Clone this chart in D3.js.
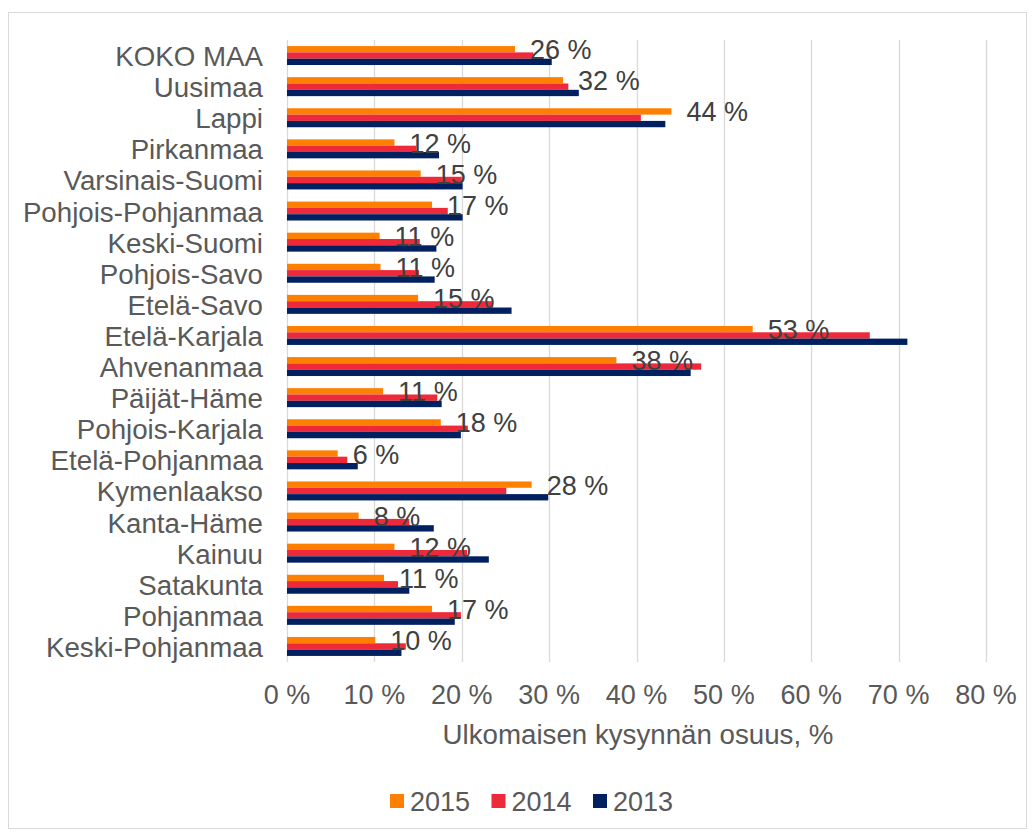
<!DOCTYPE html>
<html>
<head>
<meta charset="utf-8">
<script src="https://cdn.jsdelivr.net/npm/d3@7"></script>
<style>
  body { margin: 0; background: #fff; }
  text { font-family: "Liberation Sans", Arial, sans-serif; }
</style>
</head>
<body>
<div id="chart"></div>
<script>
// Data
const regions = ["KOKO MAA", "Uusimaa", "Lappi", "Pirkanmaa", "Varsinais-Suomi", "Pohjois-Pohjanmaa",
  "Keski-Suomi", "Pohjois-Savo", "Etelä-Savo", "Etelä-Karjala", "Ahvenanmaa", "Päijät-Häme",
  "Pohjois-Karjala", "Etelä-Pohjanmaa", "Kymenlaakso", "Kanta-Häme", "Kainuu", "Satakunta",
  "Pohjanmaa", "Keski-Pohjanmaa"];
const years = ["2015", "2014", "2013"];
const values2015 = [26.1, 31.6, 44.0, 12.3, 15.3, 16.6, 10.6, 10.7, 15.0, 53.3, 37.7, 11.0, 17.6, 5.8, 28.0, 8.2, 12.3, 11.1, 16.6, 10.1];
const values2014 = [28.2, 32.2, 40.5, 14.8, 20.0, 18.4, 15.2, 15.1, 23.6, 66.7, 47.4, 17.2, 20.7, 6.9, 25.1, 14.0, 20.6, 12.7, 19.9, 13.6];
const values2013 = [30.3, 33.4, 43.3, 17.4, 20.1, 20.1, 17.1, 16.9, 25.7, 71.0, 46.2, 17.7, 19.9, 8.1, 29.9, 16.8, 23.1, 14.0, 19.2, 13.1];
const xTicks = [0, 10, 20, 30, 40, 50, 60, 70, 80];
const colors = ["#FF8000", "#EE2A3A", "#002060"];

const seriesByYear = { "2015": values2015, "2014": values2014, "2013": values2013 };

const width = 1035, height = 832;
const plotLeft = 287, plotRight = 986, plotTop = 40, plotBottom = 662;

const svg = d3.select("#chart").append("svg")
  .attr("width", width)
  .attr("height", height);

// chart frame
svg.append("rect")
  .attr("x", 8.5).attr("y", 12.5)
  .attr("width", 1018).attr("height", 816)
  .attr("fill", "#fff")
  .attr("stroke", "#d9d9d9");

const x = d3.scaleLinear().domain([0, 80]).range([plotLeft, plotRight]);
const y = d3.scaleBand().domain(regions).range([plotTop, plotBottom]);
const groupH = y.bandwidth() * 0.61;
const ySub = d3.scaleBand().domain(years)
  .range([(y.bandwidth() - groupH) / 2, (y.bandwidth() + groupH) / 2]);

// gridlines
svg.append("g")
  .selectAll("line")
  .data(xTicks)
  .join("line")
    .attr("x1", d => Math.round(x(d)) + 0.5)
    .attr("x2", d => Math.round(x(d)) + 0.5)
    .attr("y1", plotTop)
    .attr("y2", plotBottom)
    .attr("stroke", "#d9d9d9")
    .attr("stroke-width", 1.3);

// bars
const rows = svg.append("g")
  .selectAll("g")
  .data(regions)
  .join("g")
    .attr("transform", d => `translate(0,${y(d)})`);

rows.selectAll("rect")
  .data((d, i) => years.map((yr, k) => ({ year: yr, value: seriesByYear[yr][i], k })))
  .join("rect")
    .attr("x", x(0))
    .attr("y", d => ySub(d.year))
    .attr("width", d => x(d.value) - x(0))
    .attr("height", ySub.bandwidth())
    .attr("fill", d => colors[d.k]);

// data labels (2015)
rows.append("text")
  .attr("x", (d, i) => x(values2015[i]) + 15)
  .attr("y", ySub("2015") + ySub.bandwidth() / 2 + 1)
  .attr("dominant-baseline", "central")
  .style("font-size", "27px")
  .style("fill", "#404040")
  .text((d, i) => `${Math.round(values2015[i])} %`);

// category labels
svg.append("g")
  .selectAll("text")
  .data(regions)
  .join("text")
    .attr("x", 263)
    .attr("y", d => y(d) + y.bandwidth() / 2 + 1)
    .attr("text-anchor", "end")
    .attr("dominant-baseline", "central")
    .style("font-size", "27.7px")
    .style("fill", "#595959")
    .text(d => d);

// x tick labels
svg.append("g")
  .selectAll("text")
  .data(xTicks)
  .join("text")
    .attr("x", d => x(d))
    .attr("y", 695)
    .attr("text-anchor", "middle")
    .attr("dominant-baseline", "central")
    .style("font-size", "27px")
    .style("fill", "#595959")
    .text(d => `${d} %`);

// axis title
svg.append("text")
  .attr("x", 638)
  .attr("y", 734)
  .attr("text-anchor", "middle")
  .attr("dominant-baseline", "central")
  .style("font-size", "27.7px")
  .style("fill", "#595959")
  .text("Ulkomaisen kysynnän osuus, %");

// legend
const legend = svg.append("g")
  .selectAll("g")
  .data(years)
  .join("g")
    .attr("transform", (d, i) => `translate(${390 + i * 101.5},801)`);

legend.append("rect")
  .attr("x", 0).attr("y", -7)
  .attr("width", 14).attr("height", 14)
  .attr("fill", (d, i) => colors[i]);

legend.append("text")
  .attr("x", 20)
  .attr("y", 1)
  .attr("dominant-baseline", "central")
  .style("font-size", "27px")
  .style("fill", "#595959")
  .text(d => d);
</script>
</body>
</html>
